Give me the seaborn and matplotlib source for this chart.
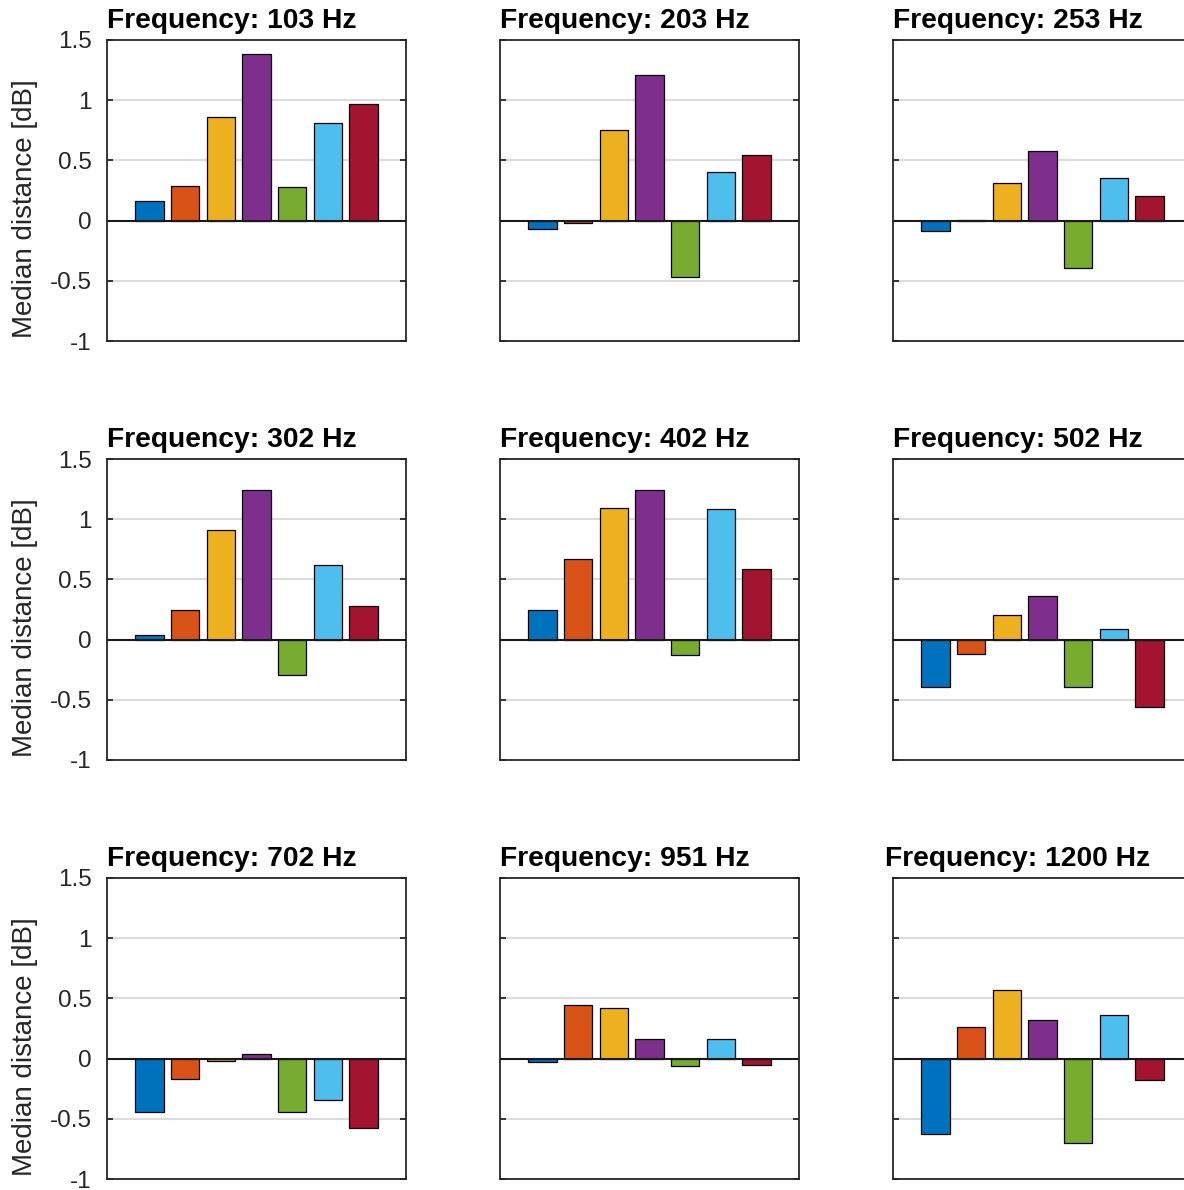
import matplotlib
matplotlib.use("Agg")
import matplotlib.pyplot as plt
import seaborn as sns
import pandas as pd

# ---- data ----
categories = ["S1", "S2", "S3", "S4", "S5", "S6", "S7"]
frequencies = [103, 203, 253, 302, 402, 502, 702, 951, 1200]

vals_103 = [0.166, 0.29, 0.86, 1.385, 0.28, 0.81, 0.97]
vals_203 = [-0.069, -0.017, 0.749, 1.209, -0.467, 0.404, 0.545]
vals_253 = [-0.086, 0.004, 0.31, 0.578, -0.393, 0.354, 0.205]
vals_302 = [0.042, 0.244, 0.914, 1.24, -0.294, 0.617, 0.28]
vals_402 = [0.244, 0.672, 1.09, 1.239, -0.131, 1.086, 0.586]
vals_502 = [-0.392, -0.117, 0.203, 0.361, -0.392, 0.089, -0.556]
vals_702 = [-0.447, -0.168, -0.022, 0.036, -0.44, -0.345, -0.58]
vals_951 = [-0.027, 0.442, 0.423, 0.163, -0.06, 0.16, -0.055]
vals_1200 = [-0.63, 0.26, 0.566, 0.317, -0.70, 0.36, -0.178]

all_vals = [vals_103, vals_203, vals_253, vals_302, vals_402,
            vals_502, vals_702, vals_951, vals_1200]

colors = ["#0072BD", "#D95319", "#EDB120", "#7E2F8E",
          "#77AC30", "#4DBEEE", "#A2142F"]

yticks = [-1, -0.5, 0, 0.5, 1, 1.5]
ytick_labels = ["-1", "-0.5", "0", "0.5", "1", "1.5"]

# ---- style ----
sns.set_style("white")
plt.rcParams["font.family"] = ["Liberation Sans", "DejaVu Sans"]

W, H = 1184, 1190
fig = plt.figure(figsize=(W / 100, H / 100), dpi=100)

col_left = [107, 500, 893]
row_top = [40, 459, 878]
ax_w, ax_h = 299, 301

text_col = "#262626"

for i, (freq, vals) in enumerate(zip(frequencies, all_vals)):
    r, c = divmod(i, 3)
    left = col_left[c] / W
    bottom = 1 - (row_top[r] + ax_h) / H
    ax = fig.add_axes([left, bottom, ax_w / W, ax_h / H])

    df = pd.DataFrame({"cat": categories, "val": vals})
    for gy in [-0.5, 0.5, 1.0]:
        ax.axhline(gy, color="#dcdcdc", lw=1.5, zorder=0)
    sns.barplot(data=df, x="cat", y="val", hue="cat", palette=colors,
                width=0.8, edgecolor="black", linewidth=0.9, legend=False,
                saturation=1, ax=ax, zorder=2)
    ax.axhline(0, color="#1a1a1a", lw=1.5, zorder=3)

    ax.set_xlim(-1.19, 7.19)
    ax.set_ylim(-1, 1.5)
    ax.set_yticks(yticks)
    ax.set_xticks([])
    ax.set_xlabel("")
    ax.tick_params(axis="y", direction="in", left=True, right=True,
                   length=4, width=1.3, color=text_col, labelsize=17.5,
                   labelcolor=text_col, pad=11)
    if c == 0:
        ax.set_yticklabels(ytick_labels)
        ax.set_ylabel("Median distance [dB]", fontsize=20, color=text_col)
        ax.yaxis.set_label_coords(-0.232, 0.44)
    else:
        ax.set_yticklabels([])
        ax.set_ylabel("")

    for sp in ax.spines.values():
        sp.set_visible(True)
        sp.set_color(text_col)
        sp.set_linewidth(1.3)

    ax.text(0.418, 1 + 12 / ax_h, f"Frequency: {freq} Hz",
            transform=ax.transAxes, ha="center", va="baseline",
            fontsize=20.3, fontweight="bold", color="black")

fig.savefig("out.png", dpi=100)
